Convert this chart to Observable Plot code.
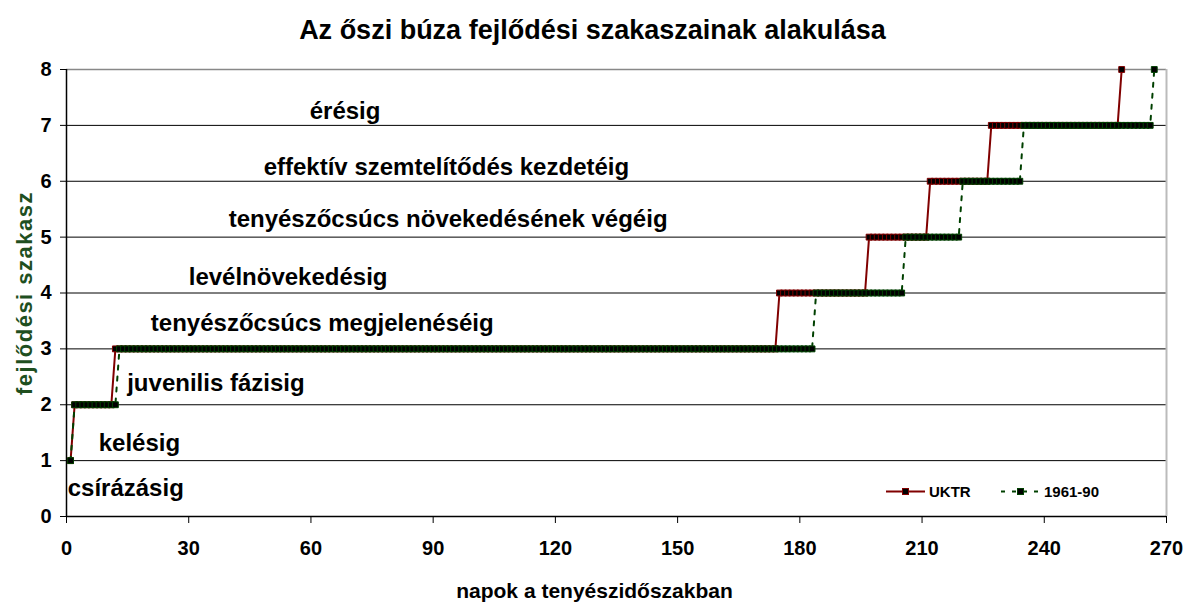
<!DOCTYPE html>
<html>
<head>
<meta charset="utf-8">
<script src="https://cdn.jsdelivr.net/npm/d3@7"></script>
<script src="https://cdn.jsdelivr.net/npm/@observablehq/plot@0.6"></script>
<style>
  body { margin: 0; background: #fff; }
  #wrap { position: relative; width: 1186px; height: 611px; font-family: "Liberation Sans", Arial, sans-serif; }
  #wrap svg [aria-label="x-axis tick label"], #wrap svg [aria-label="y-axis tick label"] { font-weight: bold; }
  #legend { position: absolute; left: 0; top: 0; pointer-events: none; }
</style>
</head>
<body>
<div id="wrap"></div>
<script>
// ---- data ----
const stages = [1, 2, 3, 4, 5, 6, 7, 8];
// first day of each stage (days of the growing season)
const stageStartUKTR = [1, 2, 12, 175, 197, 212, 227, 259];
const stageStart6190 = [1, 2, 13, 184, 206, 220, 235, 267];
const seriesNames = ["UKTR", "1961-90"];

const stageLabels = [
  "csírázásig", "kelésig", "juvenilis fázisig", "tenyészőcsúcs megjelenéséig",
  "levélnövekedésig", "tenyészőcsúcs növekedésének végéig",
  "effektív szemtelítődés kezdetéig", "érésig"
];
const stageLabelDay = [0.3, 7.9, 14.9, 20.7, 30.0, 39.8, 48.4, 59.7];
const stageLabelLevel = [0.50, 1.31, 2.38, 3.46, 4.28, 5.32, 6.25, 7.26];

const xTicks = [0, 30, 60, 90, 120, 150, 180, 210, 240, 270];
const yTicks = [0, 1, 2, 3, 4, 5, 6, 7, 8];

const titleText = "Az őszi búza fejlődési szakaszainak alakulása";
const xLabelText = "napok a tenyészidőszakban";
const yLabelText = "fejlődési szakasz";

// ---- build daily rows: each day carries the stage it is in ----
function dailyRows(starts, series) {
  const rows = [];
  for (let i = 0; i < starts.length; i++) {
    const end = i + 1 < starts.length ? starts[i + 1] - 1 : starts[i];
    for (let d = starts[i]; d <= end; d++) rows.push({series, day: d, stage: stages[i]});
  }
  return rows;
}
const uktr = dailyRows(stageStartUKTR, seriesNames[0]);
const base = dailyRows(stageStart6190, seriesNames[1]);
const labelRows = stageLabels.map((t, i) => ({label: t, day: stageLabelDay[i], level: stageLabelLevel[i]}));

const RED = "#800000", GREEN = "#004000";
const FONT = "Liberation Sans, Arial, sans-serif";

const plot = Plot.plot({
  width: 1186,
  height: 611,
  marginLeft: 66,
  marginRight: 20,
  marginTop: 69,
  marginBottom: 95,
  style: {fontFamily: FONT, background: "#fff", color: "#000", overflow: "visible"},
  x: {domain: [0, 270]},
  y: {domain: [0, 8]},
  marks: [
    Plot.ruleY(yTicks.filter(v => v > 0 && v < 8), {stroke: "#000", strokeWidth: 1}),
    Plot.ruleY([8], {stroke: "#888", strokeWidth: 1.5}),
    Plot.ruleX([270], {stroke: "#bbb", strokeWidth: 2}),
    Plot.axisX({ticks: xTicks, tickSize: 7, tickPadding: 17, fontSize: 20, tickFormat: d => d, label: null, stroke: "#000"}),
    Plot.axisY({ticks: yTicks, tickSize: 6, tickPadding: 9, fontSize: 20, tickFormat: d => d, label: null, stroke: "#000"}),
    Plot.ruleY([0], {stroke: "#000", strokeWidth: 1.5}),
    Plot.ruleX([0], {stroke: "#000", strokeWidth: 1.5}),
    Plot.line(uktr, {x: "day", y: "stage", stroke: RED, strokeWidth: 2}),
    Plot.dot(uktr, {x: "day", y: "stage", symbol: "square", r: 3.3, fill: "#000", stroke: RED, strokeWidth: 1}),
    Plot.line(base, {x: "day", y: "stage", stroke: GREEN, strokeWidth: 2, strokeDasharray: "4,7"}),
    Plot.dot(base, {x: "day", y: "stage", symbol: "square", r: 3.3, fill: "#000", stroke: GREEN, strokeWidth: 1}),
    Plot.text(labelRows, {x: "day", y: "level", text: "label", textAnchor: "start", lineAnchor: "middle", fontSize: 24, fontWeight: "bold", fill: "#000"}),
    Plot.text([titleText], {text: d => d, frameAnchor: "top", textAnchor: "middle", dx: -24, dy: -39, lineAnchor: "middle", fontSize: 27, fontWeight: "bold", fill: "#000"}),
    Plot.text([xLabelText], {text: d => d, frameAnchor: "bottom", textAnchor: "middle", dx: -22, dy: 75, lineAnchor: "middle", fontSize: 21, fontWeight: "bold", fill: "#000"}),
    Plot.text([yLabelText], {text: d => d, frameAnchor: "left", textAnchor: "middle", dx: -42, rotate: -90, lineAnchor: "middle", fontSize: 22, fontWeight: "bold", fill: "#1f4f1f"})
  ]
});

// letter-spacing on the y-axis title
plot.querySelectorAll("text").forEach(t => {
  if (t.textContent === yLabelText) t.style.letterSpacing = "1.5px";
});

const wrap = document.getElementById("wrap");
wrap.appendChild(plot);

// legend (inside the plot, lower right)
const legendItems = [
  {name: seriesNames[0], color: RED, dash: null, x0: 886, x1: 925, tx: 929},
  {name: seriesNames[1], color: GREEN, dash: "4,7", x0: 1001, x1: 1040, tx: 1044}
];
const lg = d3.select(wrap).append("svg").attr("id", "legend").attr("width", 1186).attr("height", 611);
const ly = 491.5;
legendItems.forEach(it => {
  lg.append("line").attr("x1", it.x0).attr("x2", it.x1).attr("y1", ly).attr("y2", ly)
    .attr("stroke", it.color).attr("stroke-width", 2).attr("stroke-dasharray", it.dash);
  const mx = (it.x0 + it.x1) / 2;
  lg.append("rect").attr("x", mx - 3).attr("y", ly - 3).attr("width", 6).attr("height", 6)
    .attr("fill", "#000").attr("stroke", it.color).attr("stroke-width", 1);
  lg.append("text").attr("x", it.tx).attr("y", ly + 5.5).text(it.name)
    .attr("font-family", FONT).attr("font-size", 15).attr("font-weight", "bold").attr("fill", "#000");
});
</script>
</body>
</html>
